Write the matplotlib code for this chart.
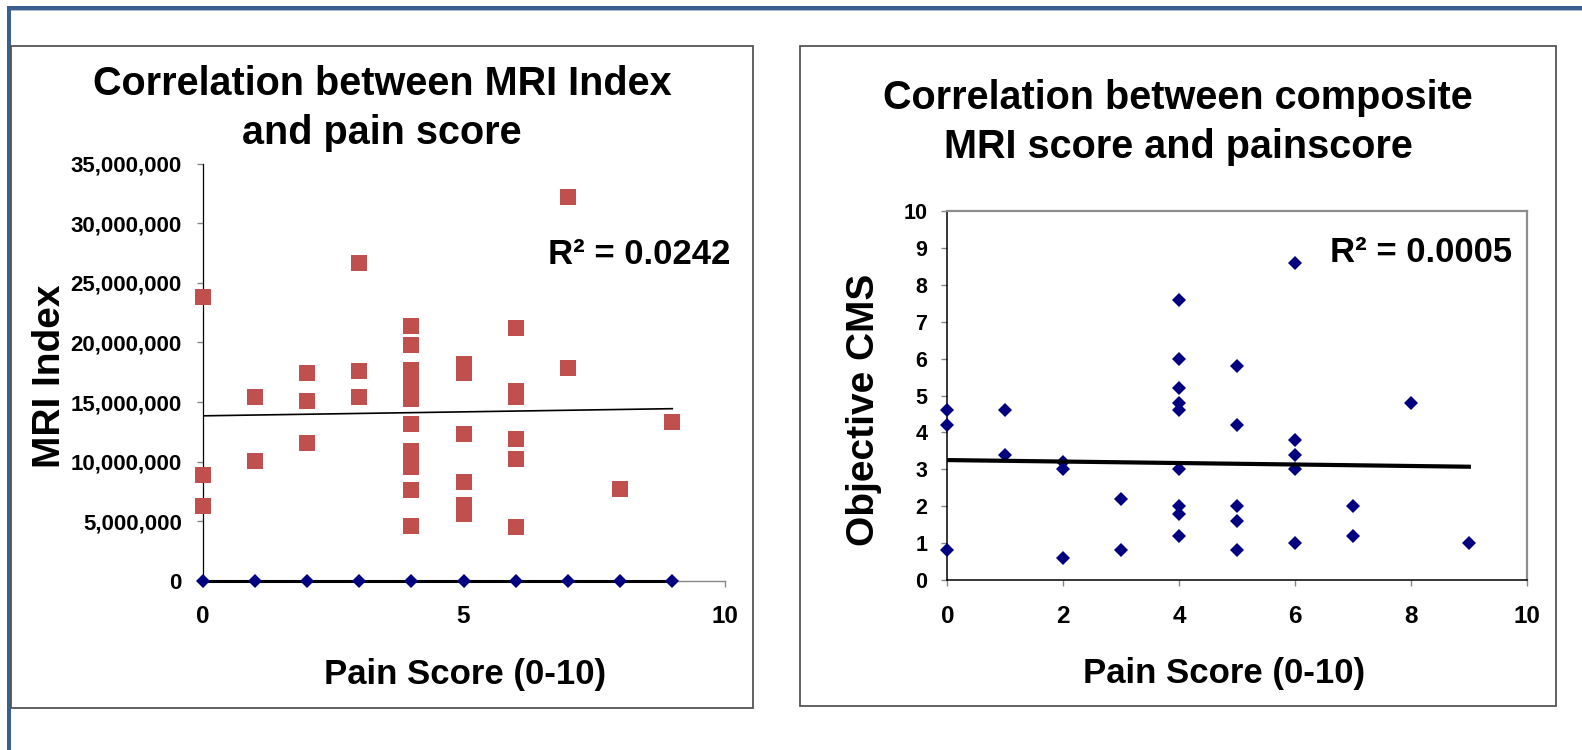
import numpy as np
import matplotlib
matplotlib.use('Agg')
import matplotlib.pyplot as plt
from matplotlib.patches import Rectangle
from matplotlib.ticker import FuncFormatter

# ---------------- data ----------------
# Left chart: MRI Index vs pain score (red squares), values in millions
mri_x = [0, 0, 0, 1, 1, 2, 2, 2, 3, 3, 3,
         4, 4, 4, 4, 4, 4, 4, 4, 4, 4, 4, 4,
         5, 5, 5, 5, 5, 5,
         6, 6, 6, 6, 6, 6,
         7, 7, 8, 9]
mri_y_millions = [23.8, 8.9, 6.3, 15.4, 10.1, 17.4, 15.1, 11.6, 26.7, 17.6, 15.4,
                  21.4, 19.8, 17.7, 16.9, 16.1, 15.3, 13.2, 10.9, 10.2, 9.6, 7.6, 4.6,
                  18.2, 17.4, 12.3, 8.3, 6.4, 5.6,
                  21.2, 15.9, 15.4, 11.9, 10.2, 4.5,
                  32.2, 17.9, 7.7, 13.3]
mri_trend_x = [0, 9]
mri_trend_y_millions = [13.85, 14.45]
# second (zero) series on the left chart
zero_x = [0, 1, 2, 3, 4, 5, 6, 7, 8, 9]
zero_y = [0, 0, 0, 0, 0, 0, 0, 0, 0, 0]
zero_trend_x = [0, 9]
zero_trend_y = [0, 0]
mri_r2 = "R\u00b2 = 0.0242"

# Right chart: composite MRI score (Objective CMS) vs pain score
cms_x = [0, 0, 0, 1, 1, 2, 2, 2, 3, 3,
         4, 4, 4, 4, 4, 4, 4, 4, 4,
         5, 5, 5, 5, 5,
         6, 6, 6, 6, 6,
         7, 7, 8, 9]
cms_y = [4.6, 4.2, 0.8, 4.6, 3.4, 3.2, 3.0, 0.6, 2.2, 0.8,
         7.6, 6.0, 5.2, 4.8, 4.6, 3.0, 2.0, 1.8, 1.2,
         5.8, 4.2, 2.0, 1.6, 0.8,
         8.6, 3.8, 3.4, 3.0, 1.0,
         2.0, 1.2, 4.8, 1.0]
cms_trend_x = [0, 9]
cms_trend_y = [3.25, 3.07]
cms_r2 = "R\u00b2 = 0.0005"

left_xticks = [0, 5, 10]
left_yticks = [0, 5e6, 10e6, 15e6, 20e6, 25e6, 30e6, 35e6]
right_xticks = [0, 2, 4, 6, 8, 10]
right_yticks = [0, 1, 2, 3, 4, 5, 6, 7, 8, 9, 10]

# ---------------- figure ----------------
W, H = 1582, 750
plt.rcParams['font.family'] = ['Liberation Sans', 'DejaVu Sans']
plt.rcParams['font.weight'] = 'bold'

fig = plt.figure(figsize=(W / 100, H / 100), dpi=100)


def fx(px):
    return px / W


def fy(py):
    return 1 - py / H


def frame(x0, y0, x1, y1, **kw):
    fig.add_artist(Rectangle((fx(x0), fy(y1)), (x1 - x0) / W, (y1 - y0) / H,
                             transform=fig.transFigure, **kw))


# outer blue slide border
frame(7, 5.7, W, 10, facecolor='#3a5f92', edgecolor='none')
frame(7, 10, W, 11, facecolor='#a9bbd3', edgecolor='none')
frame(7, 5.7, 10.5, H, facecolor='#3a5f92', edgecolor='none')
frame(10.5, 10, 11.3, H, facecolor='#6d8bb3', edgecolor='none')

# chart boxes
frame(11.3, 46, 753.3, 708.3, fill=False, edgecolor='#555555', linewidth=1.3)
frame(799.7, 46, 1555.7, 706.3, fill=False, edgecolor='#555555', linewidth=1.3)

# titles (va='baseline' anchors the last line's baseline)
fig.text(fx(382), fy(143.5), "Correlation between MRI Index\nand pain score",
         ha='center', va='baseline', fontsize=28.5, fontweight='bold', linespacing=1.34)
fig.text(fx(1178), fy(158), "Correlation between composite\nMRI score and painscore",
         ha='center', va='baseline', fontsize=28.5, fontweight='bold', linespacing=1.36)

GRAY = '#868686'

# ---------------- left chart ----------------
L0, L1, T0, B0 = 202.5, 724.5, 163.6, 581
ax1 = fig.add_axes([fx(L0), fy(B0), (L1 - L0) / W, (B0 - T0) / H])
ax1.set_xlim(0, 10)
ax1.set_ylim(0, 35e6)
ax1.set_xticks(left_xticks)
ax1.set_yticks(left_yticks)
ax1.yaxis.set_major_formatter(FuncFormatter(lambda v, p: f"{v:,.0f}"))
for s in ('top', 'right'):
    ax1.spines[s].set_visible(False)
ax1.spines['left'].set_color('black')
ax1.spines['left'].set_linewidth(0.9)
ax1.spines['bottom'].set_color(GRAY)
ax1.spines['bottom'].set_linewidth(1.0)
ax1.tick_params(axis='y', direction='out', length=4.3, width=1, color=GRAY,
                pad=10.5, labelsize=16)
ax1.tick_params(axis='x', direction='out', length=4.3, width=1, color=GRAY,
                pad=13, labelsize=17.5)

ax1.plot(zero_trend_x, zero_trend_y, color='black', lw=2.2, zorder=3, clip_on=False)
ax1.plot(zero_x, zero_y, ls='none', marker='D', ms=6.8, color='#000080',
         mew=0, zorder=4, clip_on=False)
ax1.plot(mri_x, np.array(mri_y_millions) * 1e6, ls='none', marker='s', ms=11.8,
         color='#c0504d', mew=0, zorder=3, clip_on=False)
ax1.plot(mri_trend_x, np.array(mri_trend_y_millions) * 1e6, color='black', lw=1.2,
         zorder=5)

ax1.set_xlabel("Pain Score (0-10)", fontsize=25, fontweight='bold')
ax1.xaxis.label.set_verticalalignment('baseline')
ax1.xaxis.set_label_coords((465.5 - L0) / (L1 - L0), (B0 - 684) / (B0 - T0))
ax1.set_ylabel("MRI Index", fontsize=28, fontweight='bold',
               rotation_mode='anchor', ha='center', va='baseline')
ax1.yaxis.set_label_coords((60 - L0) / (L1 - L0), (B0 - 376.5) / (B0 - T0))
ax1.text((548.5 - L0) / (L1 - L0), (B0 - 264) / (B0 - T0), mri_r2,
         transform=ax1.transAxes, ha='left', va='baseline', fontsize=25,
         fontweight='bold')

# ---------------- right chart ----------------
RL0, RL1, RT0, RB0 = 947.3, 1526.8, 211, 580
ax2 = fig.add_axes([fx(RL0), fy(RB0), (RL1 - RL0) / W, (RB0 - RT0) / H])
ax2.set_xlim(0, 10)
ax2.set_ylim(0, 10)
ax2.set_xticks(right_xticks)
ax2.set_yticks(right_yticks)
for s in ('left', 'bottom'):
    ax2.spines[s].set_color('black')
    ax2.spines[s].set_linewidth(1.1)
for s in ('top', 'right'):
    ax2.spines[s].set_color('#8c8c8c')
    ax2.spines[s].set_linewidth(1.6)
ax2.tick_params(axis='y', direction='out', length=4.3, width=1, color=GRAY,
                pad=10, labelsize=15.5)
ax2.tick_params(axis='x', direction='out', length=4.3, width=1, color=GRAY,
                pad=13.5, labelsize=17.5)

ax2.plot(cms_x, cms_y, ls='none', marker='D', ms=7.0, color='#000080', mew=0,
         zorder=3, clip_on=False)
ax2.plot(cms_trend_x, cms_trend_y, color='black', lw=3.0, zorder=4)

ax2.set_xlabel("Pain Score (0-10)", fontsize=25, fontweight='bold')
ax2.xaxis.label.set_verticalalignment('baseline')
ax2.xaxis.set_label_coords((1223.7 - RL0) / (RL1 - RL0), (RB0 - 683) / (RB0 - RT0))
ax2.set_ylabel("Objective CMS", fontsize=28, fontweight='bold',
               rotation_mode='anchor', ha='center', va='baseline')
ax2.yaxis.set_label_coords((873.5 - RL0) / (RL1 - RL0), (RB0 - 410) / (RB0 - RT0))
ax2.text((1330 - RL0) / (RL1 - RL0), (RB0 - 262) / (RB0 - RT0), cms_r2,
         transform=ax2.transAxes, ha='left', va='baseline', fontsize=25,
         fontweight='bold')

fig.savefig('out.png', dpi=100)
